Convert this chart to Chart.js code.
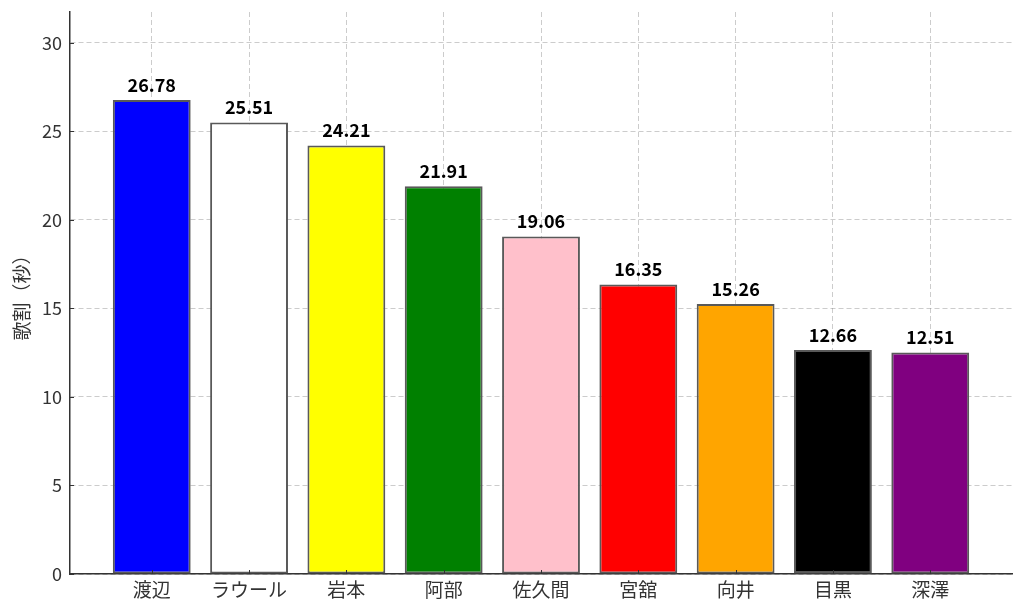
<!DOCTYPE html>
<html>
<head>
<meta charset="utf-8">
<script src="https://cdn.jsdelivr.net/npm/chart.js@4"></script>
<style>
  html, body { margin: 0; padding: 0; background: #fff; }
  #wrap { width: 1024px; height: 614px; }
</style>
</head>
<body>
<div id="wrap"><canvas id="graphique" width="1024" height="614"></canvas></div>
<script>
// Données
const membres = ['渡辺', 'ラウール', '岩本', '阿部', '佐久間', '宮舘', '向井', '目黒', '深澤'];
const secondes = [26.78, 25.51, 24.21, 21.91, 19.06, 16.35, 15.26, 12.66, 12.51];
const couleurs = ['#0000ff', '#ffffff', '#ffff00', '#008000', '#ffc0cb', '#ff0000', '#ffa500', '#000000', '#800080'];
const graduationsY = [0, 5, 10, 15, 20, 25, 30];

const POLICE = '"Noto Sans CJK JP", "Noto Sans", sans-serif';

// Étiquettes de valeur au-dessus des barres + petits traits de graduation vers l'intérieur
const pluginEtiquettes = {
  id: 'etiquettes',
  afterDraw(chart) {
    const ctx = chart.ctx;
    const { x, y } = chart.scales;
    const zone = chart.chartArea;
    ctx.save();
    ctx.strokeStyle = '#333';
    ctx.lineWidth = 1;
    x.ticks.forEach(t => {
      const px = Math.round(x.getPixelForValue(t.value)) + 0.5;
      ctx.beginPath();
      ctx.moveTo(px, zone.bottom);
      ctx.lineTo(px, zone.bottom - 4);
      ctx.stroke();
    });
    y.ticks.forEach(t => {
      const py = Math.round(y.getPixelForValue(t.value)) + 0.5;
      ctx.beginPath();
      ctx.moveTo(zone.left, py);
      ctx.lineTo(zone.left + 4, py);
      ctx.stroke();
    });

    ctx.fillStyle = '#000';
    ctx.font = 'bold 18px ' + POLICE;
    ctx.textAlign = 'center';
    ctx.textBaseline = 'bottom';
    chart.getDatasetMeta(0).data.forEach((barre, i) => {
      ctx.fillText(secondes[i].toFixed(2), barre.x, barre.y - 6);
    });
    ctx.restore();
  }
};

new Chart(document.getElementById('graphique'), {
  type: 'bar',
  data: {
    datasets: [{
      data: secondes.map((v, i) => ({ x: i, y: v })),
      backgroundColor: couleurs,
      borderColor: '#595959',
      borderWidth: 2,
      borderSkipped: false,
      categoryPercentage: 1,
      barPercentage: 0.8
    }]
  },
  options: {
    responsive: false,
    animation: false,
    layout: { padding: { top: 12, right: 12, left: 0, bottom: 0 } },
    plugins: { legend: { display: false }, tooltip: { enabled: false } },
    scales: {
      x: {
        type: 'linear',
        min: -0.84,
        max: 8.84,
        offset: false,
        z: 1,
        afterBuildTicks: axe => { axe.ticks = membres.map((_, i) => ({ value: i })); },
        afterFit: axe => { axe.height = 40; axe.paddingLeft = 0; axe.paddingRight = 0; },
        ticks: {
          callback: v => membres[v],
          color: '#333',
          font: { family: POLICE, size: 19 },
          padding: 4,
          maxRotation: 0,
          autoSkip: false
        },
        grid: { color: 'rgba(128,128,128,0.4)', lineWidth: 1, drawTicks: false, offset: false },
        border: { display: true, color: '#333', width: 1.5, dash: [5, 3] }
      },
      y: {
        min: 0,
        max: 31.75,
        z: 1,
        afterBuildTicks: axe => { axe.ticks = graduationsY.map(v => ({ value: v })); },
        afterFit: axe => { axe.width = 70; axe.paddingTop = 0; axe.paddingBottom = 0; },
        ticks: {
          color: '#333',
          font: { family: POLICE, size: 18 },
          padding: 8
        },
        grid: { color: 'rgba(128,128,128,0.4)', lineWidth: 1, drawTicks: false },
        border: { display: true, color: '#333', width: 1.5, dash: [5, 3] },
        title: {
          display: true,
          text: '歌割（秒）',
          color: '#333',
          font: { family: POLICE, size: 19 },
          padding: { top: 10, bottom: 0 }
        }
      }
    }
  },
  plugins: [pluginEtiquettes]
});
</script>
</body>
</html>
